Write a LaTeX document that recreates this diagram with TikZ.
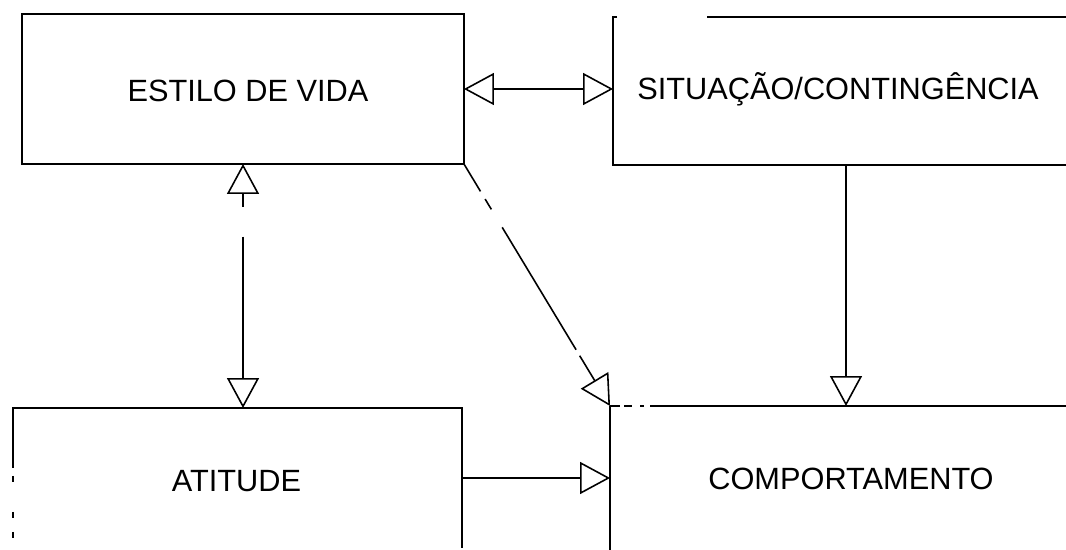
\documentclass[tikz,border=0pt]{standalone}
\usepackage{fontspec}
\setmainfont{Liberation Sans}
\usetikzlibrary{arrows.meta}
\begin{document}
\begin{tikzpicture}[x=0.02cm,y=-0.02cm,
  line width=0.9pt,
  box/.style={rectangle, inner sep=0pt, outer sep=0pt},
  lbl/.style={font=\fontsize{17.5}{21}\selectfont, inner sep=0pt, anchor=base},
  arr/.style={-{Triangle[open,length=0.6cm,width=0.64cm]}},
  darr/.style={{Triangle[open,length=0.6cm,width=0.64cm]}-{Triangle[open,length=0.6cm,width=0.64cm]}},
]
\useasboundingbox (0,0) rectangle (1066,550);

% blocks (outlines drawn separately below)
\node[box, minimum width=8.84cm, minimum height=3cm]    (estilo) at (243,89) {};
\node[box, minimum width=9.32cm, minimum height=2.96cm] (sit)    at (846,91) {};
\node[box, minimum width=8.98cm, minimum height=2.8cm]  (atit)   at (237.5,478) {};
\node[box, minimum width=9.44cm, minimum height=3.28cm] (comp)   at (846,488) {};

% labels
\node[lbl] (estiloT) at (248,102) {ESTILO DE VIDA};
\node[lbl] (sitT)    at (838,100) {SITUAÇÃO/CONTINGÊNCIA};
\node[lbl] (atitT)   at (236.5,492) {ATITUDE};
\node[lbl] (compT)   at (851,490) {COMPORTAMENTO};

% outlines
\draw (estilo.north west) rectangle (estilo.south east);
\draw ([xshift=0.08cm]sit.north west) -- (sit.north west) -- (sit.south west) -- (sit.south east);
\draw ([xshift=1.88cm]sit.north west) -- (sit.north east);
\draw (atit.south east) -- (atit.north east) -- (atit.north west) -- ([yshift=-1.2cm]atit.north west);
\draw[dash pattern=on 0pt off 0.16cm on 0.12cm off 0.6cm on 0.12cm off 0.28cm on 0.12cm off 2cm]
  ([yshift=-1.2cm]atit.north west) -- (atit.south west);
\draw (comp.south west) -- (comp.north west);
\draw[dash pattern=on 0.2cm off 0.08cm on 0.16cm off 0.16cm on 0.08cm off 0.12cm on 20cm]
  (comp.north west) -- (comp.north east);

% connectors
\draw[darr] (estilo.east) -- (estilo.east -| sit.west);
\draw[darr, dash pattern=on 0.26cm off 0.6cm on 6cm] (estilo.south) -- (estilo.south |- atit.north);
\draw[arr] (sit.south) -- (sit.south |- comp.north);
\draw[arr, dash pattern=on 0.64cm off 0.18cm on 0.24cm off 0.42cm on 2.86cm off 0.14cm on 3cm]
  (estilo.south east) -- (comp.north west);
\draw[arr] (atit.east) -- (atit.east -| comp.west);
\end{tikzpicture}
\end{document}
